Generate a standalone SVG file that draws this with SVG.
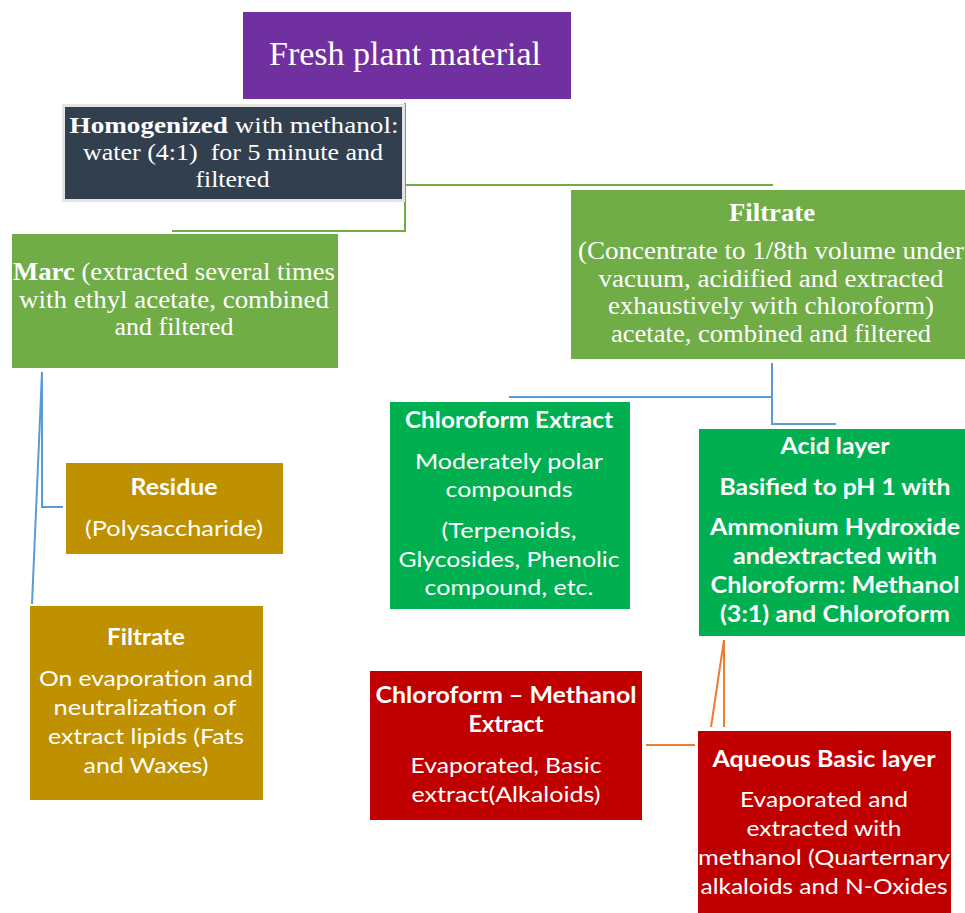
<svg xmlns="http://www.w3.org/2000/svg" width="965" height="913" viewBox="0 0 965 913">
<style>
.serif{font-family:"Liberation Serif","Times New Roman",serif;fill:#fff;text-anchor:middle}
.sans{font-family:Lato,"Open Sans",sans-serif;fill:#fff;text-anchor:middle;font-size:22px}
.b{font-weight:bold}
text{white-space:pre}
.conn-g{stroke:#70AD47;stroke-width:2;fill:none}
.conn-b{stroke:#5B9BD5;stroke-width:2;fill:none}
.conn-o{stroke:#ED7D31;stroke-width:2;fill:none}
</style>
<rect width="965" height="913" fill="#fff"/>
<g id="connectors">
<polyline class="conn-g" points="405,103 405,231 172,231"/>
<line class="conn-g" x1="405" y1="185" x2="773" y2="185"/>
<polyline class="conn-b" points="42,372 42,507 63,507"/>
<line class="conn-b" x1="42" y1="372" x2="32" y2="604"/>
<polyline class="conn-b" points="772,363 772,424 836,424"/>
<line class="conn-b" x1="509" y1="397" x2="772" y2="397"/>
<line class="conn-o" x1="724" y1="640" x2="724" y2="727"/>
<line class="conn-o" x1="724" y1="640" x2="711" y2="727"/>
<line class="conn-o" x1="646" y1="745" x2="695" y2="745"/>
</g>
<g id="fresh">
<rect x="243" y="12" width="328" height="87" fill="#7030A0"/>
<text class="serif" x="405" y="65" font-size="33" textLength="272" lengthAdjust="spacingAndGlyphs">Fresh plant material</text>
</g>
<g id="homogenized">
<rect x="63.5" y="105.5" width="340" height="95" fill="#323F4F" stroke="#E4E4E4" stroke-width="3"/>
<text class="serif" x="234" y="133" font-size="23" textLength="329" lengthAdjust="spacingAndGlyphs"><tspan class="b">Homogenized</tspan> with methanol:</text>
<text class="serif" x="233" y="160" font-size="23" textLength="300" lengthAdjust="spacingAndGlyphs">water (4:1)  for 5 minute and</text>
<text class="serif" x="232.5" y="187" font-size="23" textLength="74" lengthAdjust="spacingAndGlyphs">filtered</text>
</g>
<g id="marc">
<rect x="12" y="234" width="326" height="134" fill="#70AD47"/>
<text class="serif" x="174" y="280" font-size="25" textLength="322" lengthAdjust="spacingAndGlyphs"><tspan class="b">Marc</tspan> (extracted several times</text>
<text class="serif" x="174" y="308" font-size="25" textLength="310" lengthAdjust="spacingAndGlyphs">with ethyl acetate, combined</text>
<text class="serif" x="174" y="335" font-size="25" textLength="119" lengthAdjust="spacingAndGlyphs">and filtered</text>
</g>
<g id="filtrate-right">
<rect x="571" y="190" width="394" height="169" fill="#70AD47"/>
<text class="serif b" x="772" y="221" font-size="25" textLength="86" lengthAdjust="spacingAndGlyphs">Filtrate</text>
<text class="serif" x="771" y="259" font-size="25" textLength="386" lengthAdjust="spacingAndGlyphs">(Concentrate to 1/8th volume under</text>
<text class="serif" x="771" y="287" font-size="25" textLength="345" lengthAdjust="spacingAndGlyphs">vacuum, acidified and extracted</text>
<text class="serif" x="771" y="314" font-size="25" textLength="326" lengthAdjust="spacingAndGlyphs">exhaustively with chloroform)</text>
<text class="serif" x="771" y="342" font-size="25" textLength="320" lengthAdjust="spacingAndGlyphs">acetate, combined and filtered</text>
</g>
<g id="residue">
<rect x="66" y="463" width="217" height="91" fill="#BF9000"/>
<text class="sans b" x="174" y="495" textLength="87" lengthAdjust="spacingAndGlyphs">Residue</text>
<text class="sans" x="174" y="536" textLength="178" lengthAdjust="spacingAndGlyphs">(Polysaccharide)</text>
</g>
<g id="filtrate-left">
<rect x="30" y="606" width="233" height="194" fill="#BF9000"/>
<text class="sans b" x="146" y="645" textLength="78" lengthAdjust="spacingAndGlyphs">Filtrate</text>
<text class="sans" x="146" y="686" textLength="214" lengthAdjust="spacingAndGlyphs">On evaporation and</text>
<text class="sans" x="145" y="715" textLength="183" lengthAdjust="spacingAndGlyphs">neutralization of</text>
<text class="sans" x="146" y="744" textLength="196" lengthAdjust="spacingAndGlyphs">extract lipids (Fats</text>
<text class="sans" x="146" y="773" textLength="125" lengthAdjust="spacingAndGlyphs">and Waxes)</text>
</g>
<g id="chloroform-extract">
<rect x="390" y="402" width="240" height="207" fill="#00B050"/>
<text class="sans b" x="509" y="428" textLength="208" lengthAdjust="spacingAndGlyphs">Chloroform Extract</text>
<text class="sans" x="509" y="469" textLength="188" lengthAdjust="spacingAndGlyphs">Moderately polar</text>
<text class="sans" x="509" y="497" textLength="127" lengthAdjust="spacingAndGlyphs">compounds</text>
<text class="sans" x="509" y="538" textLength="135" lengthAdjust="spacingAndGlyphs">(Terpenoids,</text>
<text class="sans" x="509" y="567" textLength="221" lengthAdjust="spacingAndGlyphs">Glycosides, Phenolic</text>
<text class="sans" x="509" y="595" textLength="169" lengthAdjust="spacingAndGlyphs">compound, etc.</text>
</g>
<g id="acid-layer">
<rect x="699" y="429" width="266" height="207" fill="#00B050"/>
<text class="sans b" x="835" y="454" textLength="109" lengthAdjust="spacingAndGlyphs">Acid layer</text>
<text class="sans b" x="835" y="495" textLength="231" lengthAdjust="spacingAndGlyphs">Basified to pH 1 with</text>
<text class="sans b" x="835" y="535" textLength="250" lengthAdjust="spacingAndGlyphs">Ammonium Hydroxide</text>
<text class="sans b" x="835" y="564" textLength="204" lengthAdjust="spacingAndGlyphs">andextracted with</text>
<text class="sans b" x="835" y="593" textLength="249" lengthAdjust="spacingAndGlyphs">Chloroform: Methanol</text>
<text class="sans b" x="835" y="622" textLength="230" lengthAdjust="spacingAndGlyphs">(3:1) and Chloroform</text>
</g>
<g id="chloroform-methanol">
<rect x="370" y="671" width="272" height="149" fill="#C00000"/>
<text class="sans b" x="506" y="703" textLength="261" lengthAdjust="spacingAndGlyphs">Chloroform – Methanol</text>
<text class="sans b" x="506" y="732" textLength="75" lengthAdjust="spacingAndGlyphs">Extract</text>
<text class="sans" x="506" y="773" textLength="191" lengthAdjust="spacingAndGlyphs">Evaporated, Basic</text>
<text class="sans" x="506" y="802" textLength="189" lengthAdjust="spacingAndGlyphs">extract(Alkaloids)</text>
</g>
<g id="aqueous">
<rect x="698" y="731" width="253" height="182" fill="#C00000"/>
<text class="sans b" x="824" y="767" textLength="223" lengthAdjust="spacingAndGlyphs">Aqueous Basic layer</text>
<text class="sans" x="824" y="807" textLength="168" lengthAdjust="spacingAndGlyphs">Evaporated and</text>
<text class="sans" x="824" y="836" textLength="155" lengthAdjust="spacingAndGlyphs">extracted with</text>
<text class="sans" x="824" y="865" textLength="252" lengthAdjust="spacingAndGlyphs">methanol (Quarternary</text>
<text class="sans" x="824" y="894" textLength="247" lengthAdjust="spacingAndGlyphs">alkaloids and N-Oxides</text>
</g>
</svg>
